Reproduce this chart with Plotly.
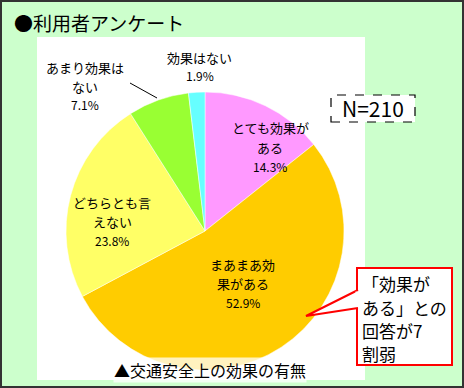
import plotly.graph_objects as go

# ---- data ----
categories = ["とても効果がある", "まあまあ効果がある", "どちらとも言えない", "あまり効果はない", "効果はない"]
values = [14.3, 52.9, 23.8, 7.1, 1.9]
colors = ["#FF99FF", "#FFCC00", "#FFFF66", "#99FF33", "#66FFFF"]
title_text = "●利用者アンケート"
caption_text = "▲交通安全上の効果の有無"
n_text = "N=210"
callout_lines = ["「効果が", "ある」との", "回答が7", "割弱"]

W, H = 464, 388
FONT = "Noto Sans CJK JP"


def px(x):
    return x / W


def py(y):
    return 1 - y / H


# pie geometry (pixels)
cx, cy, r = 205, 231, 139

fig = go.Figure(go.Pie(
    labels=categories,
    values=values,
    marker=dict(colors=colors, line=dict(color="white", width=0.5)),
    sort=False,
    direction="clockwise",
    rotation=0,
    textinfo="none",
    hoverinfo="label+percent",
    showlegend=False,
    domain=dict(x=[px(cx - r), px(cx + r)], y=[py(cy + r), py(cy - r)]),
))

shapes = [
    # white panel
    dict(type="rect", xref="paper", yref="paper", x0=px(37), x1=px(365), y0=py(380), y1=py(37),
         fillcolor="white", line=dict(width=0), layer="below"),
    # outer border
    dict(type="rect", xref="paper", yref="paper", x0=px(1), x1=px(463), y0=py(387), y1=py(1),
         fillcolor="rgba(0,0,0,0)", line=dict(color="#333333", width=2)),
    # leader line for 7.1%
    dict(type="line", xref="paper", yref="paper", x0=px(130), y0=py(83), x1=px(157), y1=py(98),
         line=dict(color="black", width=1)),
    # N box
    dict(type="rect", xref="paper", yref="paper", x0=px(331), x1=px(415), y0=py(122), y1=py(95),
         fillcolor="white", line=dict(color="black", width=1.2, dash="dash")),
    # callout box
    dict(type="rect", xref="paper", yref="paper", x0=px(357), x1=px(452), y0=py(365), y1=py(268),
         fillcolor="white", line=dict(color="#FF0000", width=2)),
    # callout tail
    dict(type="path", xref="paper", yref="paper",
         path=f"M {px(358)} {py(290)} L {px(306)} {py(316)} L {px(358)} {py(308)}",
         fillcolor="white", line=dict(color="#FF0000", width=2)),
    # cover tail join with box edge
    dict(type="line", xref="paper", yref="paper", x0=px(357), y0=py(291.5), x1=px(357), y1=py(306.5),
         line=dict(color="white", width=3)),
]

ann = []


def text(x, y, s, size=13, anchor="center"):
    ann.append(dict(xref="paper", yref="paper", x=px(x), y=py(y), text=s, showarrow=False,
                    xanchor=anchor, yanchor="middle", borderpad=0,
                    font=dict(family=FONT, size=size, color="black")))


text(13, 22, title_text, size=19, anchor="left")
text(85, 67, "あまり効果は")
text(85, 86, "ない")
text(85, 105, "7.1%", size=12)
text(199, 57, "効果はない")
text(200, 76, "1.9%", size=12)
text(270, 128, "とても効果が")
text(270, 147, "ある")
text(270, 166, "14.3%", size=12)
text(112, 202, "どちらとも言")
text(112, 221, "えない")
text(112, 240, "23.8%", size=12)
text(243, 264, "まあまあ効")
text(243, 283, "果がある")
text(243, 302, "52.9%", size=12)
text(373, 108, n_text, size=21)

for yy, s in zip([283, 307, 330, 353], callout_lines):
    text(361, yy, s, size=17, anchor="left")

ann.append(dict(xref="paper", yref="paper", x=px(210), y=py(370), text=caption_text, showarrow=False,
                xanchor="center", yanchor="middle", bgcolor="rgba(255,255,255,0.75)", borderpad=0,
                font=dict(family=FONT, size=16, color="black")))

fig.update_layout(
    width=W, height=H,
    margin=dict(l=0, r=0, t=0, b=0),
    paper_bgcolor="#CCFFCC",
    plot_bgcolor="#CCFFCC",
    shapes=shapes,
    annotations=ann,
)

fig.write_html("out.html", config={"displayModeBar": False},
               post_script="document.body.style.margin='0px';document.body.style.overflow='hidden';")
